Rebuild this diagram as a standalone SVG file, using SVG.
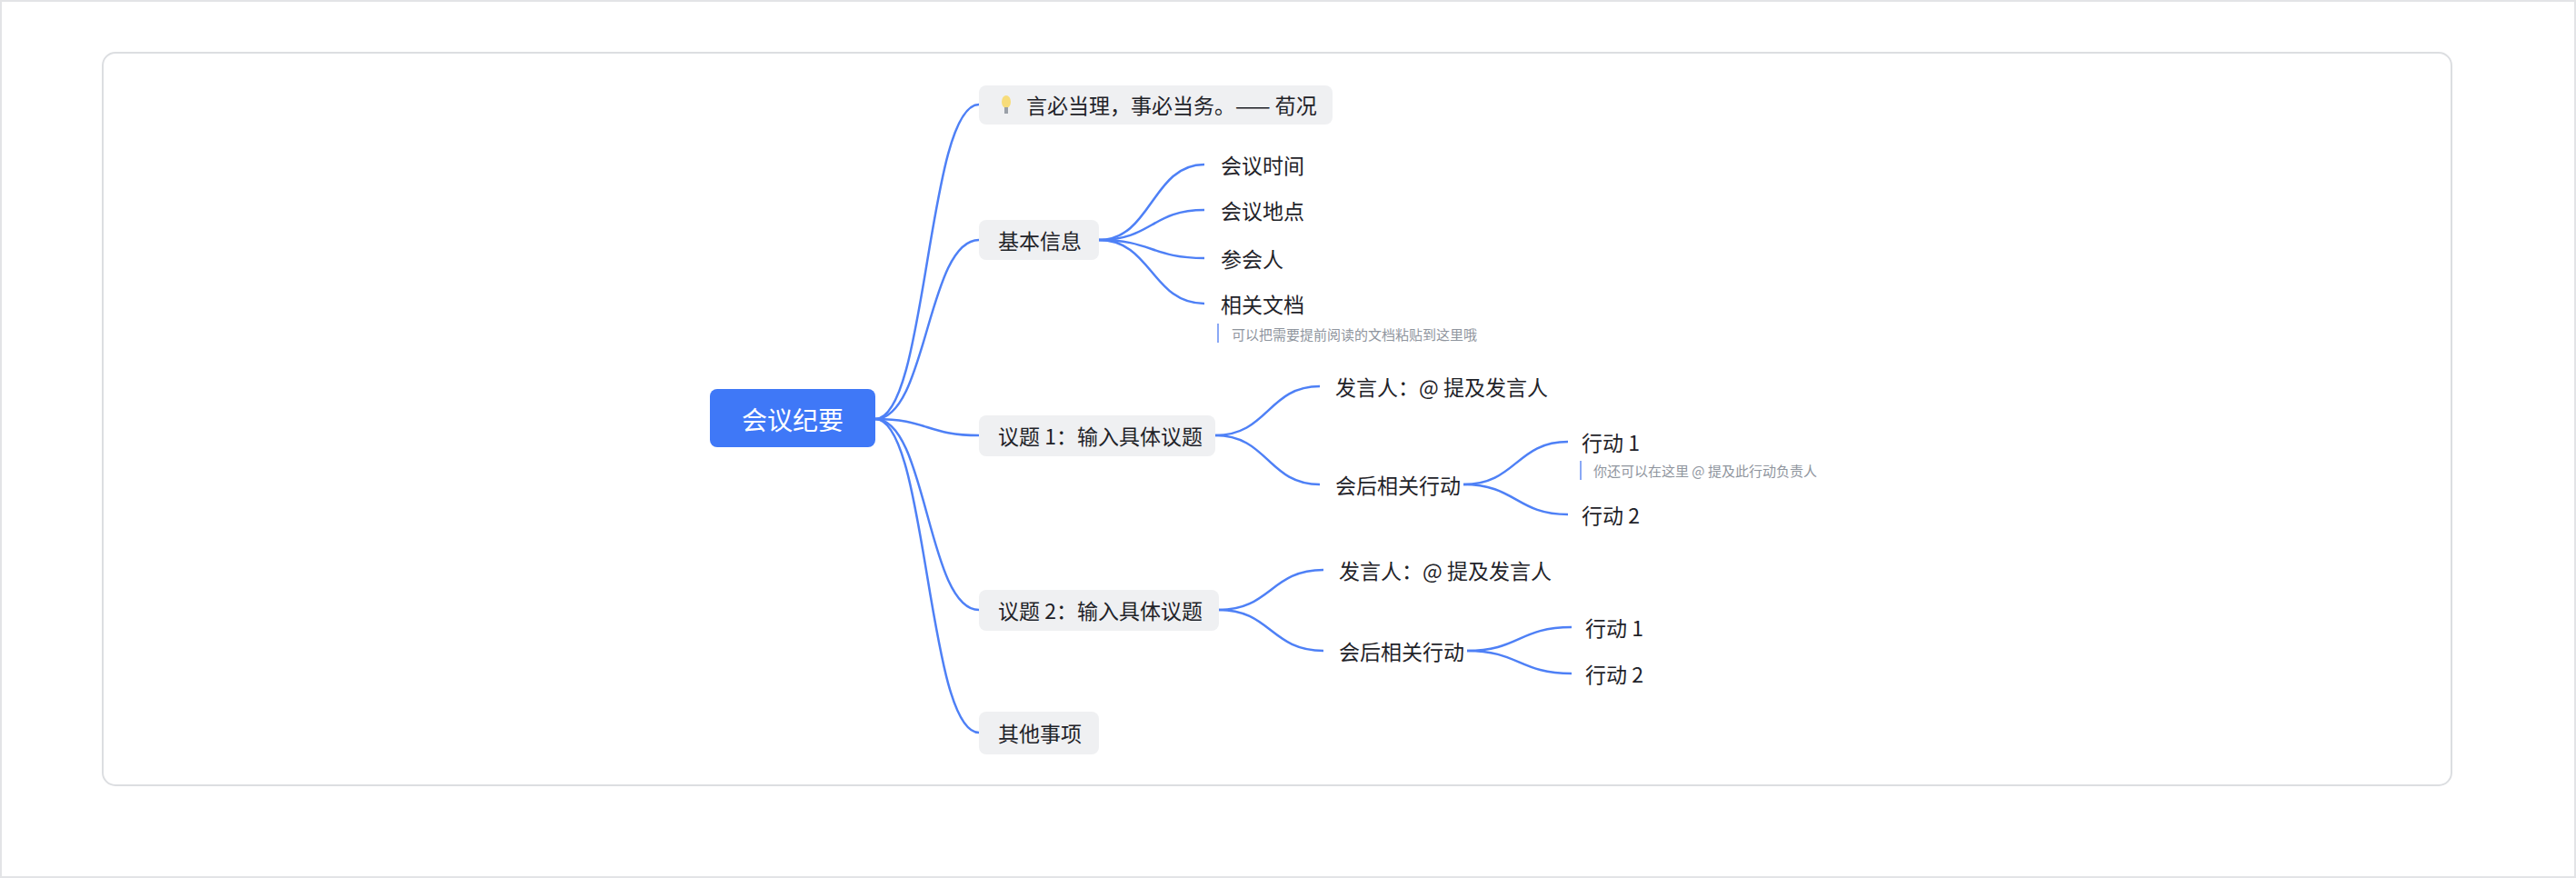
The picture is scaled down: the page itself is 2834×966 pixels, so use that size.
<svg xmlns="http://www.w3.org/2000/svg" width="2834" height="966" viewBox="0 0 2834 966">
<style>
text{font-family:"Noto Sans CJK SC","Liberation Sans",sans-serif;fill:#1f2329;font-size:23px;dominant-baseline:central}
.n{fill:#eff0f2}
.c path{fill:none;stroke:#4e80f6;stroke-width:2.5}
.note{font-size:15px;fill:#8f959e}
.bar{stroke:#8aa8f5;stroke-width:2}
</style>
<rect x="1" y="1" width="2832" height="964" fill="#fff" stroke="#e3e4e6" stroke-width="2"/>
<rect x="113" y="58" width="2584" height="806" rx="14" fill="#fff" stroke="#dcdee1" stroke-width="2"/>
<g class="c">
<path d="M963 461 C1020 461 1020 115 1077 115"/>
<path d="M963 461 C1020 461 1020 264 1077 264"/>
<path d="M963 461 C1020 461 1020 479 1077 479"/>
<path d="M963 461 C1020 461 1020 671 1077 671"/>
<path d="M963 461 C1020 461 1020 806 1077 806"/>
<path d="M1209 264 C1267 264 1267 181 1325 181"/>
<path d="M1209 264 C1267 264 1267 231 1325 231"/>
<path d="M1209 264 C1267 264 1267 284 1325 284"/>
<path d="M1209 264 C1267 264 1267 334 1325 334"/>
<path d="M1337 479 C1395 479 1395 425 1452 425"/>
<path d="M1337 479 C1395 479 1395 533 1452 533"/>
<path d="M1610 533 C1668 533 1668 486 1725 486"/>
<path d="M1610 533 C1668 533 1668 566 1725 566"/>
<path d="M1341 671 C1398 671 1398 627 1456 627"/>
<path d="M1341 671 C1398 671 1398 716 1456 716"/>
<path d="M1614 716 C1671 716 1671 690 1729 690"/>
<path d="M1614 716 C1671 716 1671 741 1729 741"/>
</g>
<g id="root"><rect x="781" y="428" width="182" height="64" rx="8" fill="#3f78f7"/><text x="872" y="461" text-anchor="middle" style="fill:#fff;font-size:28px">会议纪要</text></g>
<g id="quote"><rect class="n" x="1077" y="94" width="389" height="43" rx="8"/>
<ellipse cx="1107" cy="112" rx="5" ry="7" fill="#f7dc7a"/><rect x="1105" y="118" width="4" height="7" fill="#9aa0a8"/>
<text x="1129" y="115">言必当理，事必当务。—— 荀况</text></g>
<g id="basic"><rect class="n" x="1077" y="242" width="132" height="44" rx="8"/><text x="1098" y="264">基本信息</text></g>
<g id="b1"><text x="1343" y="181">会议时间</text></g>
<g id="b2"><text x="1343" y="231">会议地点</text></g>
<g id="b3"><text x="1343" y="284">参会人</text></g>
<g id="b4"><text x="1343" y="334">相关文档</text><line class="bar" x1="1340" y1="356" x2="1340" y2="377"/><text class="note" x="1355" y="367">可以把需要提前阅读的文档粘贴到这里哦</text></g>
<g id="t1"><rect class="n" x="1077" y="457" width="260" height="45" rx="8"/><text x="1098" y="479">议题 1：输入具体议题</text></g>
<g id="t1s"><text x="1469" y="425">发言人：@ 提及发言人</text></g>
<g id="t1a"><text x="1469" y="533">会后相关行动</text></g>
<g id="t1a1"><text x="1740" y="486">行动 1</text><line class="bar" x1="1739" y1="507" x2="1739" y2="528"/><text class="note" x="1753" y="517">你还可以在这里 @ 提及此行动负责人</text></g>
<g id="t1a2"><text x="1740" y="566">行动 2</text></g>
<g id="t2"><rect class="n" x="1077" y="649" width="264" height="45" rx="8"/><text x="1098" y="671">议题 2：输入具体议题</text></g>
<g id="t2s"><text x="1473" y="627">发言人：@ 提及发言人</text></g>
<g id="t2a"><text x="1473" y="716">会后相关行动</text></g>
<g id="t2a1"><text x="1744" y="690">行动 1</text></g>
<g id="t2a2"><text x="1744" y="741">行动 2</text></g>
<g id="other"><rect class="n" x="1077" y="783" width="132" height="47" rx="8"/><text x="1098" y="806">其他事项</text></g>
</svg>
